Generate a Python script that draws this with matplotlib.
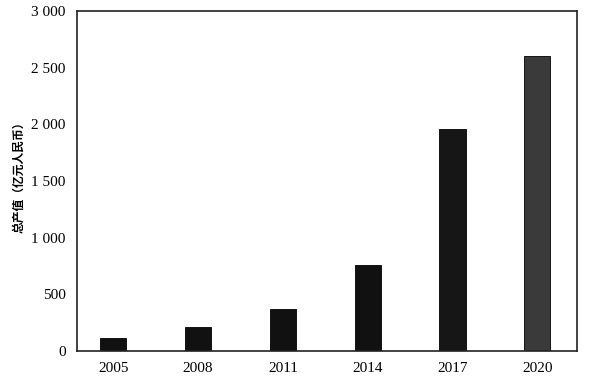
import matplotlib
matplotlib.use("Agg")
import matplotlib.pyplot as plt
from matplotlib.ticker import FixedLocator, FuncFormatter

years = ["2005", "2008", "2011", "2014", "2017", "2020"]
values = [115, 214, 370, 760, 1960, 2605]
bar_colors = ["#111111", "#111111", "#111111", "#111111", "#161616", "#3a3a3a"]
yticks = [0, 500, 1000, 1500, 2000, 2500, 3000]
ylabel = "总产值（亿元人民币）"

fig = plt.figure(figsize=(6, 3.86), dpi=100)
ax = fig.add_axes([0.128, 0.0907, 0.834, 0.881])

x = list(range(len(years)))
ax.bar(x, values, width=0.31, color=bar_colors, edgecolor="#000000", linewidth=0.6)
ax.set_xlim(-0.43, 5.47)
ax.set_ylim(0, 3000)
ax.set_xticks(x)
ax.set_xticklabels(years, family=["Liberation Serif"], fontsize=11)
ax.yaxis.set_major_locator(FixedLocator(yticks))
ax.yaxis.set_major_formatter(FuncFormatter(lambda v, p: f"{int(v):,}".replace(",", " ")))
for lab in ax.get_yticklabels():
    lab.set_family(["Liberation Serif"])
    lab.set_fontsize(11)
ax.tick_params(axis="both", length=0, pad=8)
for s in ax.spines.values():
    s.set_linewidth(1.2)
    s.set_color("#222222")
ax.set_ylabel(ylabel, family=["Noto Sans CJK SC", "DejaVu Sans"], fontsize=8.5,
              fontweight="bold")
ax.yaxis.set_label_coords(-0.104, 0.52)

fig.savefig("out.png", dpi=100)
